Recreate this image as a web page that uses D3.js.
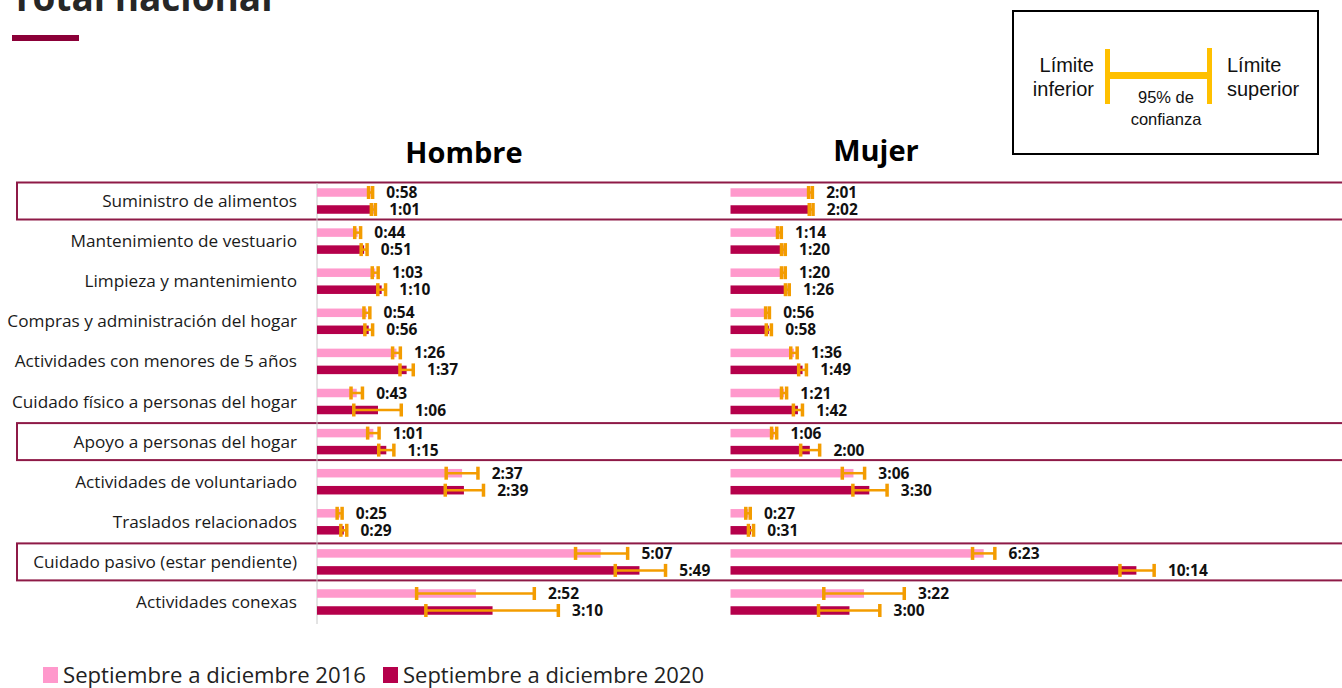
<!DOCTYPE html>
<html>
<head>
	<meta charset="UTF-8" />
	<title>Total nacional</title>
	<script src="https://d3js.org/d3.v7.min.js"></script>
	<style>
		body { margin: 0; background: #fff; }
		text { font-family: "Open Sans", sans-serif; }
	</style>
</head>
<body>
	<div id="main"></div>
	<script type="text/javascript">

		// minutes per day
		var categories = ['Suministro de alimentos', 'Mantenimiento de vestuario', 'Limpieza y mantenimiento',
			'Compras y administración del hogar', 'Actividades con menores de 5 años', 'Cuidado físico a personas del hogar',
			'Apoyo a personas del hogar', 'Actividades de voluntariado', 'Traslados relacionados',
			'Cuidado pasivo (estar pendiente)', 'Actividades conexas'];
		var highlighted = ['Suministro de alimentos', 'Apoyo a personas del hogar', 'Cuidado pasivo (estar pendiente)'];

		var hombre2016 = [58, 44, 63, 54, 86, 43, 61, 157, 25, 307, 172];
		var hombre2016Low = [55, 40, 59, 50, 81, 36, 54, 139, 21, 279, 107];
		var hombre2016High = [61, 48, 67, 58, 91, 50, 68, 175, 28, 337, 236];
		var hombre2020 = [61, 51, 70, 56, 97, 66, 75, 159, 29, 349, 190];
		var hombre2020Low = [58, 47, 65, 51, 89, 39, 66, 138, 25, 322, 117];
		var hombre2020High = [64, 55, 75, 61, 105, 92, 84, 181, 33, 378, 262];

		var mujer2016 = [121, 74, 80, 56, 96, 81, 66, 186, 27, 383, 202];
		var mujer2016Low = [117, 70, 76, 52, 90, 76, 61, 168, 22, 365, 140];
		var mujer2016High = [125, 78, 84, 60, 102, 86, 71, 204, 31, 401, 264];
		var mujer2020 = [122, 80, 86, 58, 109, 102, 120, 210, 31, 614, 180];
		var mujer2020Low = [118, 76, 82, 53, 102, 94, 105, 184, 26, 588, 132];
		var mujer2020High = [126, 84, 90, 63, 116, 110, 136, 238, 36, 642, 227];

		var seriesNames = ['Septiembre a diciembre 2016', 'Septiembre a diciembre 2020'];
		var colors = ['#ff99cc', '#b5004b'];
		var ciColor = '#f39c00';
		var boxColor = '#8e1a47';

		var width = 1342;
		var height = 688;

		var svg = d3.select('#main')
			.append('svg')
			.attr('width', width)
			.attr('height', height);

		var y = d3.scalePoint()
			.domain(categories)
			.range([201, 602]);

		var xH = d3.scaleLinear().domain([0, 400]).range([317, 686.6]);
		var xM = d3.scaleLinear().domain([0, 660]).range([730.5, 1166.8]);

		function fmt(m) {
			return Math.floor(m / 60) + ':' + d3.format('02d')(m % 60);
		}

		// title (cut at the top)
		svg.append('text')
			.attr('x', 11)
			.attr('y', 11)
			.style('font-size', '37px')
			.style('font-weight', 'bold')
			.style('fill', '#262626')
			.text('Total nacional');
		svg.append('rect')
			.attr('x', 12).attr('y', 35)
			.attr('width', 67).attr('height', 6)
			.attr('fill', '#8b0038');

		// highlighted rows
		svg.append('g')
			.selectAll('rect')
			.data(highlighted)
			.enter()
			.append('rect')
			.attr('x', 17)
			.attr('y', function(d){ return y(d) - 18.5; })
			.attr('width', 1340)
			.attr('height', 37)
			.attr('fill', 'none')
			.attr('stroke', boxColor)
			.attr('stroke-width', 2);

		// axis line
		svg.append('line')
			.attr('x1', xH(0)).attr('x2', xH(0))
			.attr('y1', 183).attr('y2', 624)
			.attr('stroke', '#c8c8c8')
			.attr('stroke-width', 1);

		// category labels
		svg.append('g')
			.selectAll('text')
			.data(categories)
			.enter()
			.append('text')
			.attr('x', 297)
			.attr('y', function(d){ return y(d); })
			.attr('dy', '0.35em')
			.attr('text-anchor', 'end')
			.style('font-size', '17.2px')
			.style('fill', '#1a1a1a')
			.text(function(d){ return d; });

		// headers
		svg.append('text').attr('x', 464).attr('y', 163).attr('text-anchor', 'middle')
			.style('font-size', '29px').style('font-weight', 'bold').style('fill', '#000').text('Hombre');
		svg.append('text').attr('x', 876).attr('y', 161).attr('text-anchor', 'middle')
			.style('font-size', '29px').style('font-weight', 'bold').style('fill', '#000').text('Mujer');

		function drawPanel(x, s2016, lo2016, hi2016, s2020, lo2020, hi2020) {
			var series = [
				{ vals: s2016, lo: lo2016, hi: hi2016, color: colors[0], off: -8.5 },
				{ vals: s2020, lo: lo2020, hi: hi2020, color: colors[1], off: 8.5 }
			];
			series.forEach(function(s){
				var rows = categories.map(function(c, i){
					return { cat: c, v: s.vals[i], lo: s.lo[i], hi: s.hi[i] };
				});
				var g = svg.append('g');
				g.selectAll('rect.bar')
					.data(rows)
					.enter()
					.append('rect')
					.attr('class', 'bar')
					.attr('x', x(0))
					.attr('y', function(d){ return y(d.cat) + s.off - 4.25; })
					.attr('width', function(d){ return x(d.v) - x(0); })
					.attr('height', 8.5)
					.attr('fill', s.color);
				g.selectAll('line.ci')
					.data(rows)
					.enter()
					.append('line')
					.attr('class', 'ci')
					.attr('x1', function(d){ return x(d.lo); })
					.attr('x2', function(d){ return x(d.hi); })
					.attr('y1', function(d){ return y(d.cat) + s.off; })
					.attr('y2', function(d){ return y(d.cat) + s.off; })
					.attr('stroke', ciColor)
					.attr('stroke-width', 2.5);
				['lo', 'hi'].forEach(function(k){
					g.selectAll('rect.cap' + k)
						.data(rows)
						.enter()
						.append('rect')
						.attr('class', 'cap' + k)
						.attr('x', function(d){ return k == 'lo' ? x(d[k]) - 1 : x(d[k]) - 2.5; })
						.attr('y', function(d){ return y(d.cat) + s.off - 6.5; })
						.attr('width', 3.5)
						.attr('height', 13)
						.attr('fill', ciColor);
				});
				g.selectAll('text')
					.data(rows)
					.enter()
					.append('text')
					.attr('x', function(d){ return x(d.hi) + 13; })
					.attr('y', function(d){ return y(d.cat) + s.off; })
					.attr('dy', '0.36em')
					.style('font-size', '15.5px')
					.style('font-weight', 'bold')
					.style('fill', '#111')
					.text(function(d){ return fmt(d.v); });
			});
		}

		drawPanel(xH, hombre2016, hombre2016Low, hombre2016High, hombre2020, hombre2020Low, hombre2020High);
		drawPanel(xM, mujer2016, mujer2016Low, mujer2016High, mujer2020, mujer2020Low, mujer2020High);

		// confidence legend box
		var lg = svg.append('g');
		lg.append('rect')
			.attr('x', 1013).attr('y', 11)
			.attr('width', 305).attr('height', 143)
			.attr('fill', '#fff')
			.attr('stroke', '#000')
			.attr('stroke-width', 2);
		lg.append('rect').attr('x', 1105).attr('y', 49).attr('width', 5).attr('height', 55).attr('fill', '#ffc000');
		lg.append('rect').attr('x', 1207).attr('y', 48).attr('width', 5).attr('height', 56).attr('fill', '#ffc000');
		lg.append('rect').attr('x', 1107).attr('y', 72).attr('width', 103).attr('height', 7).attr('fill', '#ffc000');
		[['Límite', 1094, 72, 'end'], ['inferior', 1094, 96, 'end'], ['Límite', 1227, 72, 'start'], ['superior', 1227, 96, 'start']]
			.forEach(function(t){
				lg.append('text').attr('x', t[1]).attr('y', t[2]).attr('text-anchor', t[3])
					.style('font-family', '"Liberation Sans", Arial, sans-serif')
					.style('font-size', '20px').style('fill', '#111').text(t[0]);
			});
		[['95% de', 103], ['confianza', 125]].forEach(function(t){
			lg.append('text').attr('x', 1166).attr('y', t[1]).attr('text-anchor', 'middle')
				.style('font-family', '"Liberation Sans", Arial, sans-serif')
				.style('font-size', '16.5px').style('fill', '#111').text(t[0]);
		});

		// series legend
		var leg = svg.append('g')
			.selectAll('g')
			.data(seriesNames)
			.enter()
			.append('g')
			.attr('transform', function(d, i){ return 'translate(' + (i == 0 ? 43 : 383) + ',667)'; });
		leg.append('rect')
			.attr('width', 15).attr('height', 16)
			.attr('fill', function(d, i){ return colors[i]; });
		leg.append('text')
			.attr('x', 20).attr('y', 8)
			.attr('dy', '0.36em')
			.attr('textLength', function(d, i){ return i == 0 ? 303 : 301; })
			.attr('lengthAdjust', 'spacingAndGlyphs')
			.style('font-size', '21px')
			.style('fill', '#222')
			.text(function(d){ return d; });

	</script>
</body>
</html>
